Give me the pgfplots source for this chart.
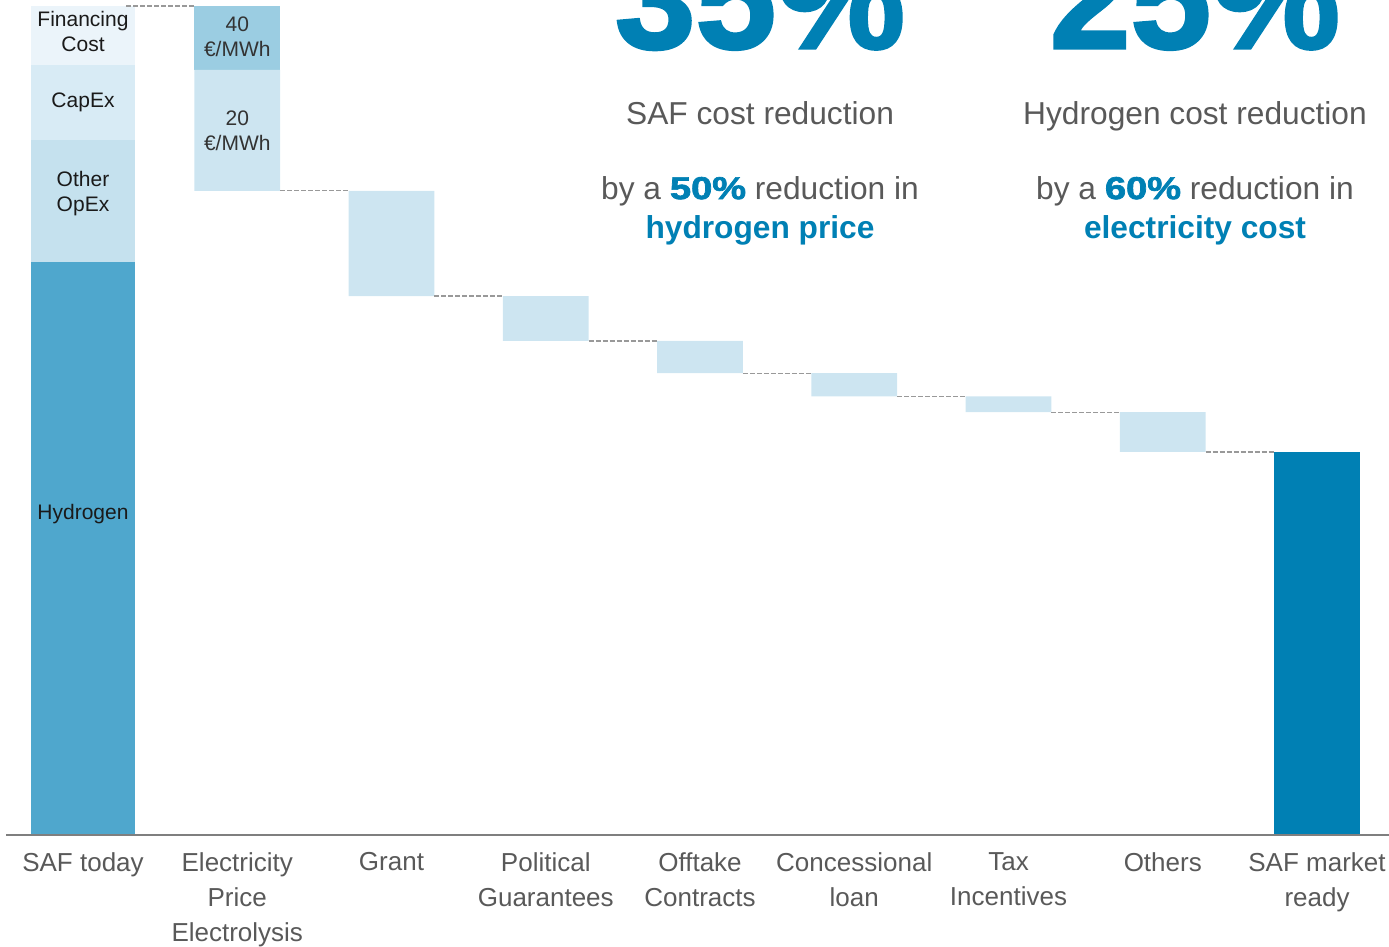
\documentclass[border=0pt]{standalone}
\usepackage{fontspec}
\setmainfont{Liberation Sans}
\newfontfamily\heavy{Liberation Sans}[BoldFeatures={FakeBold=2}]
\usepackage{graphicx}
\usepackage{pgfplots}
\pgfplotsset{compat=1.18}
\usepackage{pgfplotstable}

\definecolor{tgrey}{HTML}{595959}
\definecolor{mblue}{HTML}{0080B4}
\definecolor{hydc}{HTML}{4FA7CD}
\definecolor{opexc}{HTML}{C5E1EE}
\definecolor{capexc}{HTML}{D8EBF5}
\definecolor{finc}{HTML}{EBF4FA}
\definecolor{elecc}{HTML}{9BCDE2}
\definecolor{stepc}{HTML}{CDE5F1}
\definecolor{connc}{HTML}{999999}
\definecolor{axisc}{HTML}{7F7F7F}
\definecolor{labc}{HTML}{1A1A1A}

\pgfplotstableread{
x base hyd opex capex fin step elec final
0 0    69.1 14.7 9.1 7.1 0    0   0
1 77.7 0    0    0   0   14.6 7.7 0
2 65.0 0    0    0   0   12.7 0   0
3 59.6 0    0    0   0   5.4  0   0
4 55.7 0    0    0   0   3.9  0   0
5 52.9 0    0    0   0   2.8  0   0
6 51.0 0    0    0   0   1.9  0   0
7 46.2 0    0    0   0   4.8  0   0
8 0    0    0    0   0   0    0   46.2
}\wf

\pgfplotsset{wfbase/.style={scale only axis, width=1383pt, height=835pt,
  xmin=-0.4992, xmax=8.467, ymin=0, ymax=100.72,
  axis line style={draw=none}, tick style={draw=none}, ytick=\empty}}

\begin{document}
\begin{tikzpicture}
\begin{axis}[wfbase, ybar stacked, bar width=0.557,
  xtick={0,...,8},
  xticklabels={SAF today,{Electricity\\Price\\Electrolysis},Grant,{Political\\Guarantees},{Offtake\\Contracts},{Concessional\\loan},{Tax\\Incentives},Others,{SAF market\\ready}},
  xticklabel style={align=center, font=\fontsize{26}{35}\selectfont, text=tgrey, anchor=north, inner sep=0pt, yshift=-17pt}]
\addplot[draw=none, fill=none] table[x=x,y=base]{\wf};
\addplot[draw=none, fill=hydc, bar width=0.674] table[x=x,y=hyd]{\wf};
\addplot[draw=none, fill=opexc, bar width=0.674] table[x=x,y=opex]{\wf};
\addplot[draw=none, fill=capexc, bar width=0.674] table[x=x,y=capex]{\wf};
\addplot[draw=none, fill=finc, bar width=0.674] table[x=x,y=fin]{\wf};
\addplot[draw=none, fill=stepc] table[x=x,y=step]{\wf};
\addplot[draw=none, fill=elecc] table[x=x,y=elec]{\wf};
\addplot[draw=none, fill=mblue] table[x=x,y=final]{\wf};
\end{axis}
\begin{axis}[wfbase, clip=false, xtick=\empty, unbounded coords=jump]
\addplot[connc, line width=1.3pt, dash pattern=on 5pt off 2pt, mark=none] coordinates {
(0.28,100) (0.7215,100) (nan,nan)
(1.2785,77.7) (1.7215,77.7) (nan,nan)
(2.2785,65.0) (2.7215,65.0) (nan,nan)
(3.2785,59.6) (3.7215,59.6) (nan,nan)
(4.2785,55.7) (4.7215,55.7) (nan,nan)
(5.2785,52.9) (5.7215,52.9) (nan,nan)
(6.2785,51.0) (6.7215,51.0) (nan,nan)
(7.2785,46.2) (7.7215,46.2)};
\draw[axisc, line width=2pt] (rel axis cs:0,0) -- (rel axis cs:1,0);
\tikzset{lab/.style={align=center, font=\fontsize{21}{25}\selectfont, text=labc, inner sep=0pt}}
\node[lab] at (axis cs:0,96.9) {Financing\\Cost};
\node[lab] at (axis cs:0,88.4) {CapEx};
\node[lab] at (axis cs:0,77.4) {Other\\OpEx};
\node[lab] at (axis cs:0,38.7) {Hydrogen};
\node[lab, text=black!80] at (axis cs:1,96.3) {40\\€/MWh};
\node[lab, text=black!80] at (axis cs:1,85.0) {20\\€/MWh};
\tikzset{big/.style={anchor=base, inner sep=0pt, text=mblue, font=\heavy\bfseries\fontsize{145}{150}\selectfont},
  txt/.style={anchor=base, inner sep=0pt, text=tgrey, font=\fontsize{31.7}{38}\selectfont},
  btxt/.style={anchor=base, inner sep=0pt, text=mblue, font=\bfseries\fontsize{31.7}{38}\selectfont}}
\node[big] at (axis cs:4.389,94.9) {35\%};
\node[big] at (axis cs:7.209,94.9) {25\%};
\node[txt] at (axis cs:4.389,85.7) {SAF cost reduction};
\node[txt] at (axis cs:7.209,85.7) {Hydrogen cost reduction};
\node[txt] at (axis cs:4.389,76.7) {by a {\heavy\bfseries\color{mblue}\scalebox{1.2}[1]{50\%}} reduction in};
\node[txt] at (axis cs:7.209,76.7) {by a {\heavy\bfseries\color{mblue}\scalebox{1.2}[1]{60\%}} reduction in};
\node[btxt] at (axis cs:4.389,71.9) {hydrogen price};
\node[btxt] at (axis cs:7.209,71.9) {electricity cost};
\end{axis}
\pgfresetboundingbox
\path[use as bounding box] (-6pt,-111pt) rectangle (1383pt,835pt);
\end{tikzpicture}
\end{document}
